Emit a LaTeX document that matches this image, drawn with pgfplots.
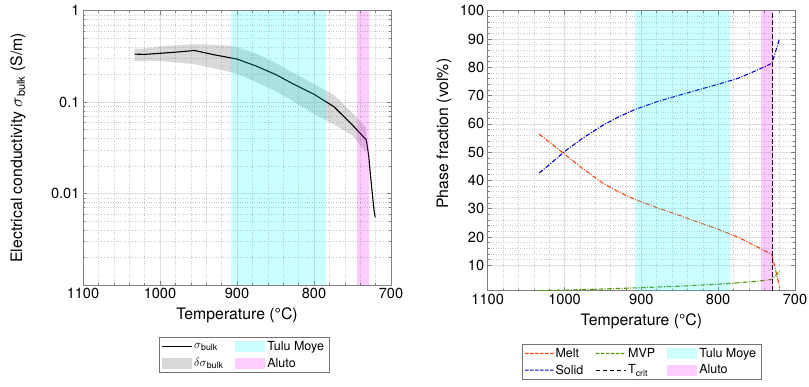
\documentclass[border=0pt]{standalone}
\usepackage{fontspec}
\setmainfont{TeX Gyre Heros}
\usepackage{pgfplots}
\pgfplotsset{compat=1.18}
\definecolor{meltc}{rgb}{1,0.27,0.05}
\definecolor{solidc}{rgb}{0,0,0.85}
\definecolor{mvpc}{rgb}{0.3,0.6,0}
\definecolor{cyanc}{rgb}{0,1,1}
\definecolor{magc}{rgb}{1,0,1}
\definecolor{grayc}{rgb}{0.5,0.5,0.5}
\definecolor{cyanl}{rgb}{0.8,1,1}
\definecolor{magl}{rgb}{1,0.8,1}
\definecolor{grayl}{rgb}{0.85,0.85,0.85}
\tikzset{dd/.style={line width=1.1bp, dash pattern=on 4.5bp off 1.5bp on 1bp off 1.5bp}}
\pgfplotsset{
 patchleg/.style={legend image code/.code={\fill[##1] (0bp,-5.5bp) rectangle (30bp,5.5bp);}},
 lineleg/.style={legend image code/.code={\draw[##1] (0bp,0bp) -- (30bp,0bp);}},
 solidleg/.style={legend image code/.code={\fill[##1] (0bp,-0.55bp) rectangle (30bp,0.55bp);}},
 ddleg/.style={legend image code/.code={\fill[##1]
   (0bp,-0.6bp) rectangle (3.5bp,0.6bp) (5bp,-0.6bp) rectangle (8.5bp,0.6bp)
   (10bp,-0.6bp) rectangle (13.5bp,0.6bp) (15bp,-0.6bp) rectangle (18.5bp,0.6bp)
   (20bp,-0.6bp) rectangle (23.5bp,0.6bp) (25bp,-0.6bp) rectangle (28.5bp,0.6bp);}},
 mystyle/.style={
  scale only axis, x dir=reverse, xmin=700, xmax=1100,
  xtick={700,800,...,1100}, minor x tick num=4,
  grid=both,
  major grid style={black!13, line width=0.5bp},
  minor grid style={black!20, dotted, line width=0.5bp},
  axis line style={black!50, line width=0.5bp},
  tick style={black!50, line width=0.5bp},
  major tick length=4bp, minor tick length=2bp, tick align=inside,
  ticklabel style={font=\fontsize{14.6bp}{16bp}\selectfont},
  label style={font=\fontsize{15.8bp}{18bp}\selectfont},
  xlabel style={yshift=-2bp},
  /pgf/number format/assume math mode=true,
  /pgf/number format/1000 sep={},
  xlabel={Temperature (°C)},
  legend cell align=left,
  legend style={draw=black!55, line width=0.5bp, font=\fontsize{12.5bp}{14bp}\selectfont,
    /tikz/every even column/.append style={column sep=10bp},
    inner xsep=3bp, inner ysep=2bp, row sep=2bp},
 }
}
\begin{document}
\begin{tikzpicture}
\useasboundingbox (0,0) rectangle (809bp,387bp);
% ---------------- left axis ----------------
\begin{axis}[mystyle,
  at={(83bp,102bp)}, anchor=south west, width=308bp, height=274.3bp,
  ymode=log, ymin=0.001, ymax=1,
  ytick={0.01,0.1,1}, yticklabels={0.01,0.1,1},
  minor ytick={0.002,0.003,0.004,0.005,0.006,0.007,0.008,0.009,0.02,0.03,0.04,0.05,0.06,0.07,0.08,0.09,0.2,0.3,0.4,0.5,0.6,0.7,0.8,0.9},
  ylabel={Electrical conductivity $\sigma$\textsubscript{bulk} (S/m)},
  ylabel style={at={(axis description cs:-0.211,0.5)}, anchor=center},
  legend columns=2,
  legend style={at={(0.523,-0.19)}, anchor=north},
]
\addplot[draw=none, fill=grayc, fill opacity=0.3, forget plot] coordinates {
 (1033,0.384) (1020,0.386) (1000,0.405) (980,0.42) (955,0.43) (930,0.425) (910,0.415) (900,0.40)
 (875,0.34) (850,0.27) (825,0.205) (800,0.158) (774,0.12) (750,0.076) (732,0.052)
 (732,0.028) (750,0.043) (774,0.057) (800,0.074) (825,0.10) (850,0.132) (875,0.165) (900,0.205)
 (930,0.235) (955,0.26) (980,0.272) (1000,0.282) (1020,0.285) (1033,0.279)};
\addplot[black, line width=1.1bp, forget plot] coordinates {
 (1033,0.335) (1020,0.333) (1000,0.342) (980,0.352) (955,0.367) (930,0.330) (900,0.296)
 (875,0.248) (850,0.201) (825,0.155) (800,0.122) (774,0.089) (750,0.056) (732,0.0386)
 (729,0.026) (727,0.017) (724,0.0095) (722,0.0065) (720.5,0.0055)};
\addlegendimage{solidleg, fill=black, draw=none}
\addlegendentry{$\sigma$\textsubscript{bulk}}
\addlegendimage{patchleg, fill=cyanl, draw=none}
\addlegendentry{Tulu Moye}
\addlegendimage{patchleg, fill=grayl, draw=none}
\addlegendentry{$\delta\sigma$\textsubscript{bulk}}
\addlegendimage{patchleg, fill=magl, draw=none}
\addlegendentry{Aluto}
\addplot[draw=none, fill=cyanc, fill opacity=0.2, forget plot] coordinates {(908,0.001) (785,0.001) (785,1) (908,1)};
\addplot[draw=none, fill=magc, fill opacity=0.2, forget plot] coordinates {(744,0.001) (729,0.001) (729,1) (744,1)};
\end{axis}
% ---------------- right axis ----------------
\begin{axis}[mystyle,
  at={(487.7bp,96.3bp)}, anchor=south west, width=307.3bp, height=280bp,
  ymin=1, ymax=100, ytick={10,20,...,100}, minor y tick num=4,
  ylabel={Phase fraction (vol\%)},
  ylabel style={at={(axis description cs:-0.142,0.561)}, anchor=center},
  legend columns=3,
  legend style={at={(0.5005,-0.19)}, anchor=north},
]
\addplot[color=meltc, dd, forget plot] coordinates {
 (1033,56.4) (1000,49.3) (976,44.1) (950,39.0) (930,36.0) (908,33.2) (880,30.4) (851,27.7) (825,25.1) (800,22.7)
 (774,19.9) (750,16.6) (730,13.8) (725,8) (720,2.0)};
\addplot[color=mvpc, dd, forget plot] coordinates {
 (1033,1.0) (1000,1.2) (950,1.6) (908,2.0) (850,2.6) (800,3.3) (774,3.8) (750,4.3) (730,5.0) (720,7.9)};
\addplot[color=solidc, dd, forget plot] coordinates {
 (1033,42.6) (1020,45.5) (1000,50.2) (976,55.0) (950,59.5) (930,62.4) (908,65.1) (880,67.8) (851,70.1)
 (825,72.1) (800,74.0) (774,76.1) (750,78.9) (730,81.4) (720,90.2)};
\addplot[color=black, line width=0.9bp, dash pattern=on 4.5bp off 2.5bp, forget plot] coordinates {(730,1) (730,100)};
\addplot[draw=none, fill=cyanc, fill opacity=0.2, forget plot] coordinates {(908,1) (785,1) (785,100) (908,100)};
\addplot[draw=none, fill=magc, fill opacity=0.2, forget plot] coordinates {(744,1) (729,1) (729,100) (744,100)};
\addlegendimage{ddleg, fill=meltc, draw=none}
\addlegendentry{Melt}
\addlegendimage{ddleg, fill=mvpc, draw=none}
\addlegendentry{MVP}
\addlegendimage{patchleg, fill=cyanl, draw=none}
\addlegendentry{Tulu Moye}
\addlegendimage{ddleg, fill=solidc, draw=none}
\addlegendentry{Solid}
\addlegendimage{lineleg, draw=black, line width=0.9bp, dash pattern=on 4.5bp off 2.5bp}
\addlegendentry{T\textsubscript{crit}}
\addlegendimage{patchleg, fill=magl, draw=none}
\addlegendentry{Aluto}
\end{axis}
\end{tikzpicture}
\end{document}
